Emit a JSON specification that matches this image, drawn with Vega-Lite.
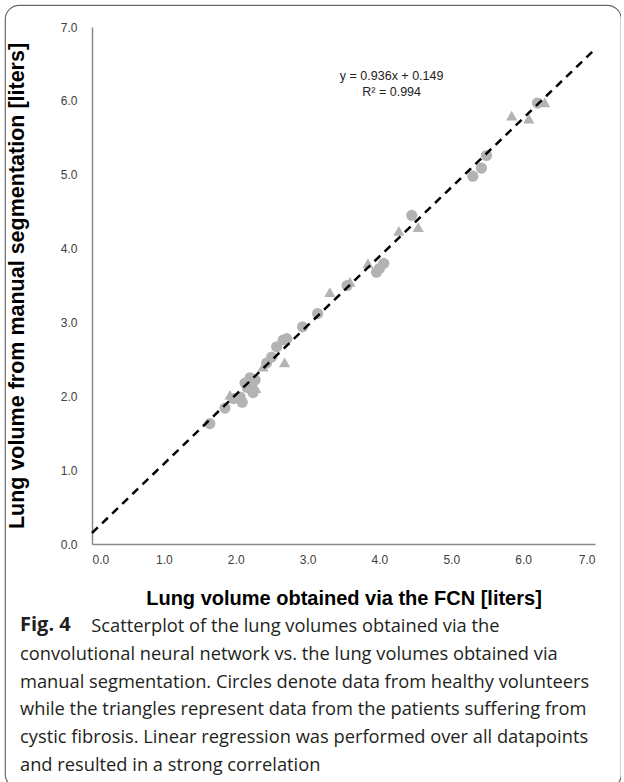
{
  "$schema": "https://vega.github.io/schema/vega-lite/v6.json",
  "width": 616,
  "height": 783,
  "autosize": {"type": "none"},
  "padding": {"left": 5, "top": 5, "right": 0, "bottom": 0},
  "background": "white",
  "config": {
    "view": {"stroke": "#6b6b6b", "strokeWidth": 1.2, "cornerRadius": 14},
    "axis": {"grid": false}
  },
  "title": {
    "text": "Fig. 4",
    "subtitle": [
      "\u200b\u00a0\u00a0\u00a0\u00a0\u00a0\u00a0\u00a0\u00a0\u00a0\u00a0\u00a0\u00a0\u00a0\u00a0\u00a0Scatterplot of the lung volumes obtained via the",
      "convolutional neural network vs. the lung volumes obtained via",
      "manual segmentation. Circles denote data from healthy volunteers",
      "while the triangles represent data from the patients suffering from",
      "cystic fibrosis. Linear regression was performed over all datapoints",
      "and resulted in a strong correlation"
    ],
    "orient": "bottom",
    "anchor": "start",
    "frame": "group",
    "offset": -173,
    "dx": 15,
    "font": "Open Sans",
    "fontSize": 20,
    "fontWeight": "bold",
    "color": "#231f20",
    "subtitleFont": "Open Sans",
    "subtitleFontSize": 18.3,
    "subtitleColor": "#231f20",
    "subtitleLineHeight": 27.8,
    "subtitlePadding": -17,
    "baseline": "top"
  },
  "datasets": {
    "points": [
      {"fcn": 1.64, "manual": 1.63, "group": "healthy"},
      {"fcn": 1.85, "manual": 1.84, "group": "healthy"},
      {"fcn": 1.92, "manual": 2.02, "group": "cf"},
      {"fcn": 1.97, "manual": 1.97, "group": "healthy"},
      {"fcn": 2.06, "manual": 1.99, "group": "healthy"},
      {"fcn": 2.09, "manual": 1.92, "group": "healthy"},
      {"fcn": 2.13, "manual": 2.18, "group": "healthy"},
      {"fcn": 2.16, "manual": 2.12, "group": "healthy"},
      {"fcn": 2.2, "manual": 2.25, "group": "healthy"},
      {"fcn": 2.22, "manual": 2.18, "group": "healthy"},
      {"fcn": 2.27, "manual": 2.22, "group": "healthy"},
      {"fcn": 2.24, "manual": 2.05, "group": "healthy"},
      {"fcn": 2.28, "manual": 2.11, "group": "cf"},
      {"fcn": 2.38, "manual": 2.4, "group": "cf"},
      {"fcn": 2.43, "manual": 2.45, "group": "healthy"},
      {"fcn": 2.5, "manual": 2.53, "group": "healthy"},
      {"fcn": 2.57, "manual": 2.67, "group": "healthy"},
      {"fcn": 2.66, "manual": 2.76, "group": "healthy"},
      {"fcn": 2.71, "manual": 2.78, "group": "healthy"},
      {"fcn": 2.68, "manual": 2.46, "group": "cf"},
      {"fcn": 2.93, "manual": 2.94, "group": "healthy"},
      {"fcn": 3.14, "manual": 3.12, "group": "healthy"},
      {"fcn": 3.31, "manual": 3.41, "group": "cf"},
      {"fcn": 3.55, "manual": 3.5, "group": "healthy"},
      {"fcn": 3.59, "manual": 3.55, "group": "cf"},
      {"fcn": 3.84, "manual": 3.8, "group": "cf"},
      {"fcn": 3.96, "manual": 3.68, "group": "healthy"},
      {"fcn": 4.0, "manual": 3.73, "group": "healthy"},
      {"fcn": 4.06, "manual": 3.8, "group": "healthy"},
      {"fcn": 4.27, "manual": 4.24, "group": "cf"},
      {"fcn": 4.45, "manual": 4.45, "group": "healthy"},
      {"fcn": 4.54, "manual": 4.29, "group": "cf"},
      {"fcn": 5.3, "manual": 4.98, "group": "healthy"},
      {"fcn": 5.42, "manual": 5.09, "group": "healthy"},
      {"fcn": 5.49, "manual": 5.26, "group": "healthy"},
      {"fcn": 5.84, "manual": 5.8, "group": "cf"},
      {"fcn": 6.08, "manual": 5.76, "group": "cf"},
      {"fcn": 6.2, "manual": 5.97, "group": "healthy"},
      {"fcn": 6.3, "manual": 5.98, "group": "cf"}
    ],
    "fit": [
      {"fcn": 0.0, "manual": 0.149},
      {"fcn": 7.0, "manual": 6.70}
    ],
    "equation": [
      {"fcn": 4.17, "manual": 6.33, "label": "y = 0.936x + 0.149"},
      {"fcn": 4.17, "manual": 6.12, "label": "R² = 0.994"}
    ]
  },
  "encoding": {
    "x": {
      "field": "fcn",
      "type": "quantitative",
      "scale": {"domain": [0, 7], "range": [87, 590], "nice": false, "zero": false},
      "axis": {
        "title": "Lung volume obtained via the FCN [liters]",
        "offset": -244,
        "values": [0, 1, 2, 3, 4, 5, 6, 7],
        "format": ".1f",
        "ticks": false,
        "domainColor": "#8a8a8a",
        "domainWidth": 1.5,
        "labelPadding": 10,
        "labelFont": "Liberation Sans",
        "labelFontSize": 12,
        "labelColor": "#404040",
        "titleFont": "Liberation Sans",
        "titleFontSize": 20,
        "titleFontWeight": "bold",
        "titleColor": "#000000",
        "titlePadding": 23
      }
    },
    "y": {
      "field": "manual",
      "type": "quantitative",
      "scale": {"domain": [0, 7], "range": [539, 22], "nice": false, "zero": false},
      "axis": {
        "title": "Lung volume from manual segmentation [liters]",
        "offset": -87,
        "values": [0, 1, 2, 3, 4, 5, 6, 7],
        "format": ".1f",
        "ticks": false,
        "domainColor": "#8a8a8a",
        "domainWidth": 1.5,
        "labelPadding": 15,
        "labelFont": "Liberation Sans",
        "labelFontSize": 12,
        "labelColor": "#404040",
        "titleFont": "Liberation Sans",
        "titleFontSize": 21.5,
        "titleFontWeight": "bold",
        "titleColor": "#000000",
        "titlePadding": 32
      }
    }
  },
  "layer": [
    {
      "data": {"name": "points"},
      "mark": {"type": "point", "filled": true, "opacity": 1, "size": 125, "color": "#b3b3b3"},
      "encoding": {
        "shape": {
          "field": "group",
          "type": "nominal",
          "scale": {"domain": ["healthy", "cf"], "range": ["circle", "triangle-up"]},
          "legend": null
        }
      }
    },
    {
      "data": {"name": "fit"},
      "mark": {"type": "line", "color": "#000000", "strokeWidth": 2.5, "strokeDash": [8, 6]},
      "encoding": {}
    },
    {
      "data": {"name": "equation"},
      "mark": {"type": "text", "font": "Liberation Sans", "fontSize": 12.5, "color": "#222222", "align": "center"},
      "encoding": {"text": {"field": "label"}}
    }
  ]
}
